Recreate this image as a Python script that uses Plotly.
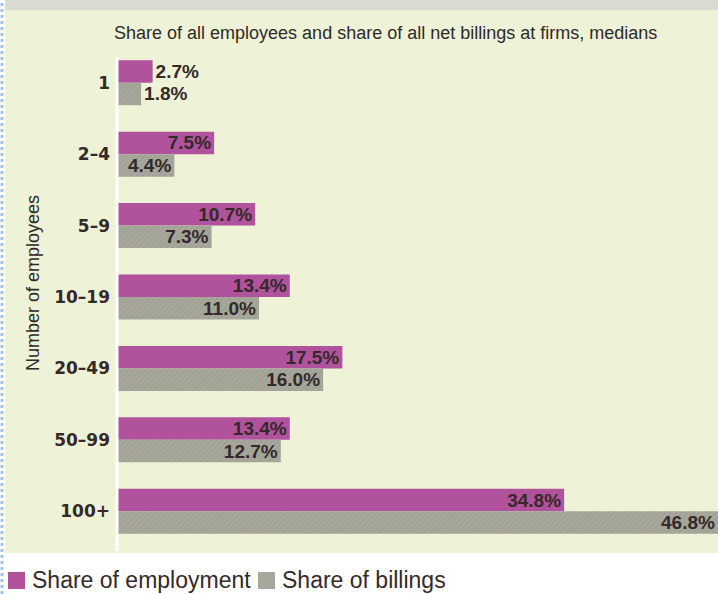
import plotly.graph_objects as go

# Firm size bands (number of employees)
categories = ["1", "2–4", "5–9", "10–19", "20–49", "50–99", "100+"]

# Medians, in percent
employment_share = [2.7, 7.5, 10.7, 13.4, 17.5, 13.4, 34.8]
billings_share = [1.8, 4.4, 7.3, 11.0, 16.0, 12.7, 46.8]

series_names = ["Share of employment", "Share of billings"]

TITLE = "Share of all employees and share of all net billings at firms, medians"
AXIS_TITLE = "Number of employees"

MAGENTA = "#b1529d"
GREY = "#a7a89b"
PANEL = "#eef2d7"
INK = "#35292a"
FONT = "Liberation Sans, Arial, sans-serif"
TICK_FONT = "DejaVu Sans, sans-serif"

W, H = 718, 594
L, R, T, B = 118, 0, 47, 47
PW, PH = W - L - R, H - T - B


def px(x):
    return (x - L) / PW


def py(y):
    return (H - B - y) / PH


label_font = dict(family=FONT, size=19, color=INK, weight="bold")
grey_pattern = dict(shape="/", fgcolor="#8e8f84", bgcolor=GREY, size=4, solidity=0.25)


def positions(values):
    # short bars carry their label just past the end
    return ["outside" if v < 3 else "inside" for v in values]


fig = go.Figure()
fig.add_trace(go.Bar(
    y=categories, x=employment_share, orientation="h", name=series_names[0],
    marker=dict(color=MAGENTA, line=dict(width=0)),
    text=[f"{v:.1f}%" for v in employment_share],
    textposition=positions(employment_share), insidetextanchor="end", textangle=0,
    insidetextfont=label_font, outsidetextfont=label_font,
    cliponaxis=False, showlegend=False,
))
fig.add_trace(go.Bar(
    y=categories, x=billings_share, orientation="h", name=series_names[1],
    marker=dict(color=GREY, line=dict(width=0), pattern=grey_pattern),
    text=[f"{v:.1f}%" for v in billings_share],
    textposition=positions(billings_share), insidetextanchor="end", textangle=0,
    insidetextfont=label_font, outsidetextfont=label_font,
    cliponaxis=False, showlegend=False,
))

# legend keys and labels along the bottom
legend_items = [(8, MAGENTA, series_names[0]), (258, GREY, series_names[1])]
legend_shapes, legend_notes = [], []
for x_left, colour, label in legend_items:
    legend_shapes.append(dict(
        type="rect", xref="paper", yref="paper", layer="above",
        x0=px(x_left), x1=px(x_left + 17), y0=py(589), y1=py(572),
        fillcolor=colour, line=dict(width=0)))
    legend_notes.append(dict(
        text=label, xref="paper", yref="paper", x=px(x_left + 22), y=py(580),
        xanchor="left", yanchor="middle", showarrow=False,
        font=dict(family=FONT, size=23, color=INK)))

fig.update_layout(
    width=W, height=H,
    margin=dict(l=L, r=R, t=T, b=B, pad=0),
    paper_bgcolor="white",
    plot_bgcolor="rgba(0,0,0,0)",
    barmode="group",
    bargap=0.37,
    bargroupgap=0,
    uniformtext=dict(minsize=19, mode="show"),
    font=dict(family=FONT, color=INK),
    xaxis=dict(range=[0, 46.8], visible=False, fixedrange=True),
    yaxis=dict(
        autorange="reversed", showgrid=False, zeroline=False, showline=False,
        ticks="", ticklabelstandoff=7,
        tickfont=dict(family=TICK_FONT, size=17, color=INK, weight="bold"),
    ),
    showlegend=False,
    shapes=[
        # tinted panel behind the chart
        dict(type="rect", xref="paper", yref="paper", layer="below",
             x0=px(5), x1=1, y0=py(553), y1=py(10),
             fillcolor=PANEL, line=dict(width=0)),
        # grey strip along the top edge
        dict(type="rect", xref="paper", yref="paper", layer="below",
             x0=px(5), x1=1, y0=py(10), y1=py(0),
             fillcolor="#d9dbd3", line=dict(width=0)),
        # dotted blue margin rule on the left
        dict(type="line", xref="paper", yref="paper", layer="above",
             x0=px(2), x1=px(2), y0=py(594), y1=py(0),
             line=dict(color="#9fc2e6", width=3, dash="dot")),
        # white baseline of the bars
        dict(type="line", xref="paper", yref="paper", layer="above",
             x0=px(117), x1=px(117), y0=py(551), y1=py(57),
             line=dict(color="white", width=3)),
    ] + legend_shapes,
    annotations=[
        dict(text=TITLE, xref="paper", yref="paper", x=px(385), y=py(33),
             xanchor="center", yanchor="middle", showarrow=False,
             font=dict(family=FONT, size=18, color="#2e2a2a")),
        dict(text=AXIS_TITLE, xref="paper", yref="paper", x=px(33), y=py(283),
             xanchor="center", yanchor="middle", textangle=-90, showarrow=False,
             font=dict(family=FONT, size=18, color="#2e2a2a")),
    ] + legend_notes,
)

fig.write_html("out.html")
